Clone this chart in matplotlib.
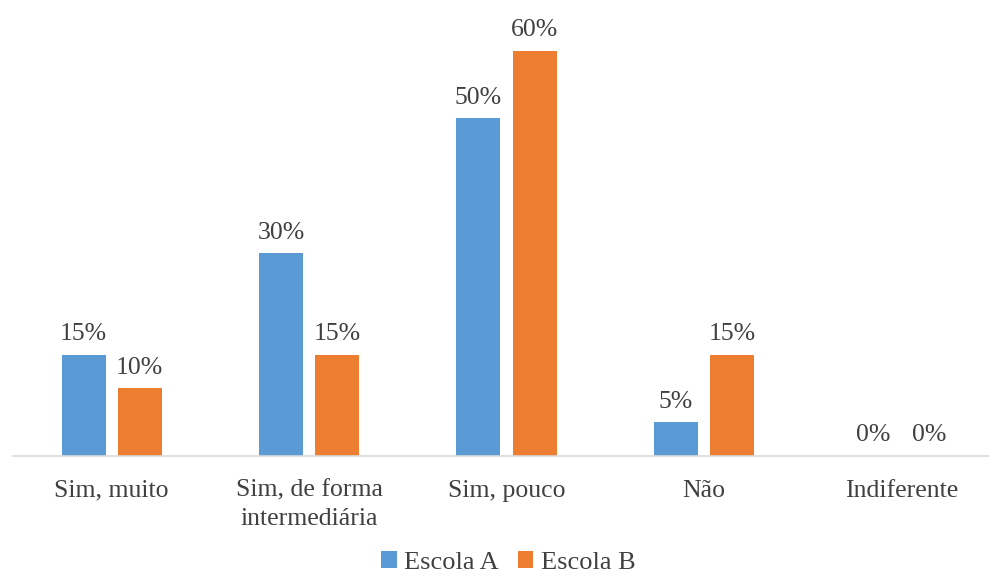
import numpy as np
import matplotlib.pyplot as plt

categorias = ['Sim, muito', 'Sim, de forma\nintermediária', 'Sim, pouco', 'Não', 'Indiferente']
escola_a = [15, 30, 50, 5, 0]
escola_b = [10, 15, 60, 15, 0]
series = ['Escola A', 'Escola B']

plt.rcParams['font.family'] = ['Liberation Serif', 'DejaVu Serif']
cor_texto = '#404040'

fig = plt.figure(figsize=(9.89, 5.80), dpi=100)
ax = fig.add_axes([13 / 989, 124 / 580, 987 / 989, 0.7565])

x = np.arange(len(categorias))
w = 0.223
off = 0.142
b1 = ax.bar(x - off, escola_a, w, color='#5B9BD5', label=series[0])
b2 = ax.bar(x + off, escola_b, w, color='#ED7D31', label=series[1])

for bars in (b1, b2):
    for r in bars:
        h = r.get_height()
        ax.annotate(f'{h:.0f}%', (r.get_x() + r.get_width() / 2, h),
                    xytext=(0, 7), textcoords='offset points',
                    ha='center', va='bottom', fontsize=18.5, color=cor_texto)

ax.set_xlim(-0.5, len(categorias) - 0.5)
ax.set_ylim(0, 65)
ax.set_xticks(x)
ax.set_xticklabels(categorias, fontsize=18.5, color=cor_texto, linespacing=1.4)
ax.tick_params(axis='x', length=0, pad=17)
ax.set_yticks([])
for s in ['top', 'right', 'left']:
    ax.spines[s].set_visible(False)
ax.spines['bottom'].set_color('#D9D9D9')
ax.spines['bottom'].set_linewidth(1.2)

leg = fig.legend(loc='lower center', bbox_to_anchor=(0.514, -0.03), ncol=2, frameon=False,
                 fontsize=19, handlelength=0.6, handleheight=0.6, handletextpad=0.3,
                 columnspacing=0.7)
for t in leg.get_texts():
    t.set_color(cor_texto)

fig.savefig('out.png', dpi=100)
